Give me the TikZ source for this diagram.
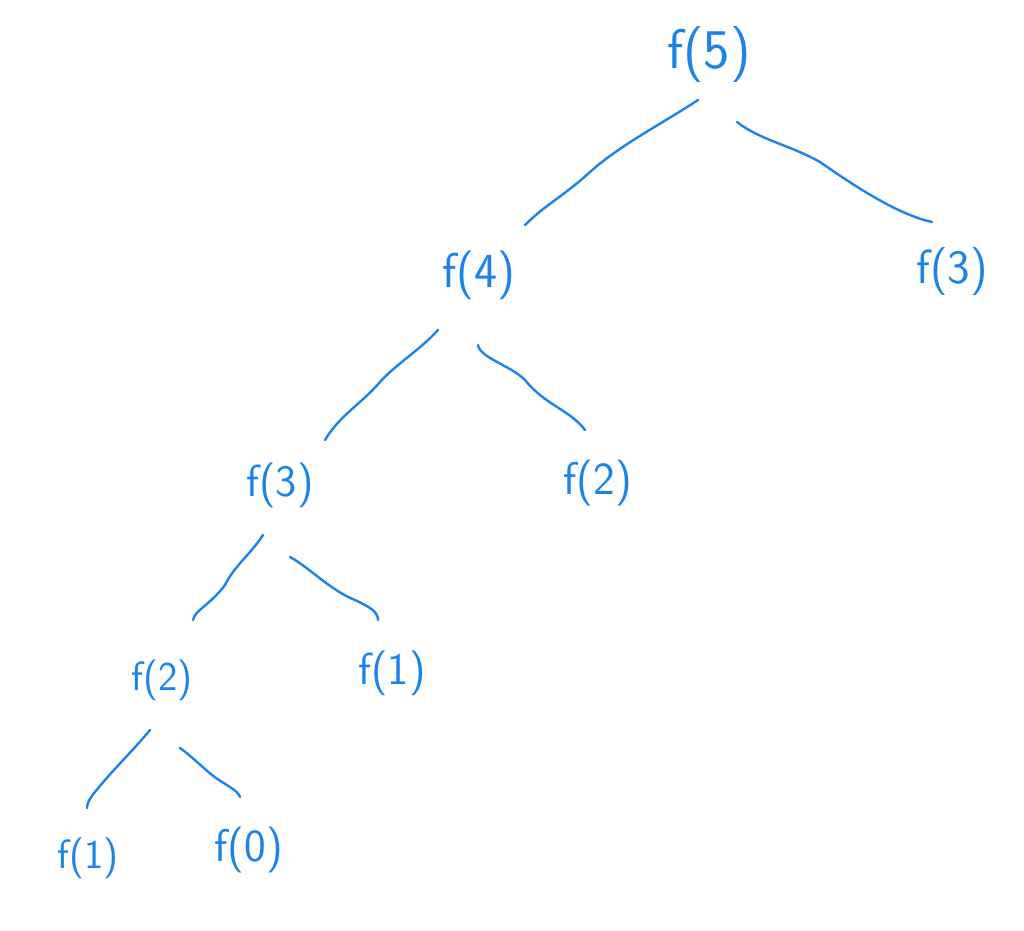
\documentclass[tikz,border=0pt]{standalone}
\usepackage{fontspec}
\definecolor{ink}{RGB}{28,132,232}
\begin{document}
\begin{tikzpicture}[x=1pt,y=-1pt,
  lbl/.style={text=ink,font=\sffamily,inner sep=0pt},
  edge/.style={draw=ink,line width=2.4pt,line cap=round,line join=round}]
\useasboundingbox[fill=white] (0,0) rectangle (1024,930);
\node[lbl,font=\sffamily\fontsize{56}{56}\selectfont] (n5) at (709,55) {f(5)};
\node[lbl,font=\sffamily\fontsize{49}{49}\selectfont] (n4) at (479,275) {f(4)};
\node[lbl,font=\sffamily\fontsize{48}{48}\selectfont] (n3r) at (952,272) {f(3)};
\node[lbl,font=\sffamily\fontsize{45}{45}\selectfont] (n3l) at (280,485) {f(3)};
\node[lbl,font=\sffamily\fontsize{46}{46}\selectfont] (n2r) at (598,483) {f(2)};
\node[lbl,font=\sffamily\fontsize{41}{41}\selectfont] (n2l) at (162,680) {f(2)};
\node[lbl,font=\sffamily\fontsize{45}{45}\selectfont] (n1m) at (392,673) {f(1)};
\node[lbl,font=\sffamily\fontsize{41}{41}\selectfont] (n1b) at (88,858) {f(1)};
\node[lbl,font=\sffamily\fontsize{46}{46}\selectfont] (n0) at (249,850) {f(0)};
% connectors
\draw[edge] ([shift={(-11,45)}]n5.center) .. controls (660,125) and (620,145) .. (590,172)
  .. controls (565,195) and (545,205) .. ([shift={(46,-50)}]n4.center);
\draw[edge] ([shift={(28,67)}]n5.center) .. controls (760,140) and (790,145) .. (820,162)
  .. controls (860,190) and (900,215) .. ([shift={(-20,-50)}]n3r.center);
\draw[edge] ([shift={(-41,55)}]n4.center) .. controls (420,350) and (395,365) .. (380,382)
  .. controls (360,405) and (340,415) .. ([shift={(45,-45)}]n3l.center);
\draw[edge] ([shift={(-1,70)}]n4.center) .. controls (480,358) and (510,365) .. (525,380)
  .. controls (545,405) and (570,410) .. ([shift={(-13,-53)}]n2r.center);
\draw[edge] ([shift={(-17,50)}]n3l.center) .. controls (250,555) and (235,565) .. (225,585)
  .. controls (210,605) and (195,610) .. ([shift={(31,-60)}]n2l.center);
\draw[edge] ([shift={(10,72)}]n3l.center) .. controls (310,568) and (330,590) .. (355,600)
  .. controls (370,607) and (378,612) .. ([shift={(-14,-53)}]n1m.center);
\draw[edge] ([shift={(-12,50)}]n2l.center) .. controls (135,748) and (118,765) .. (105,780)
  .. controls (95,792) and (87,800) .. ([shift={(-1,-50)}]n1b.center);
\draw[edge] ([shift={(18,68)}]n2l.center) .. controls (190,755) and (200,765) .. (212,775)
  .. controls (225,785) and (238,790) .. ([shift={(-9,-53)}]n0.center);
\end{tikzpicture}
\end{document}
